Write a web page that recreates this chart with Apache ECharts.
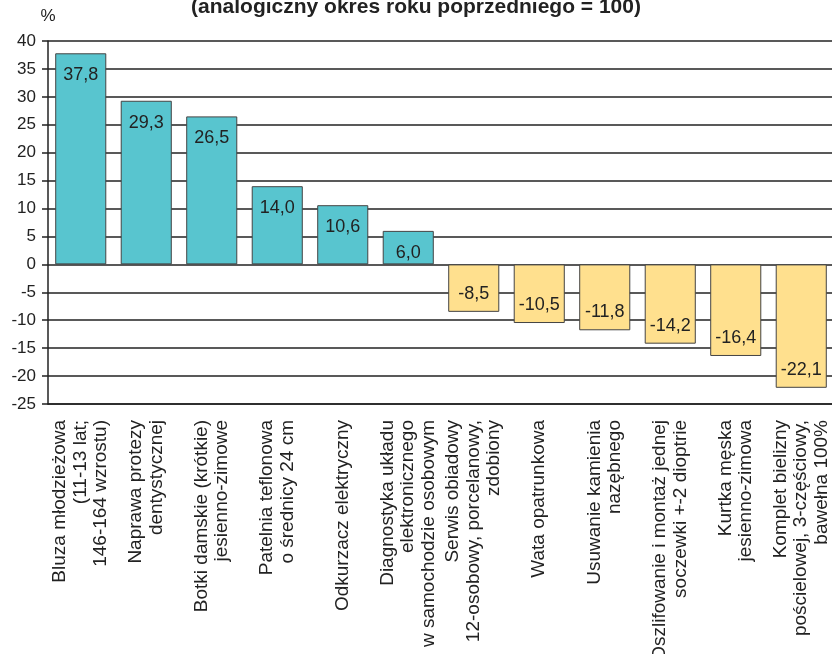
<!DOCTYPE html>
<html>
<head>
<meta charset="utf-8">
<script src="https://cdn.jsdelivr.net/npm/echarts@6/dist/echarts.min.js"></script>
<style>
    html, body { margin: 0; padding: 0; background: #fff; }
    #chart { width: 832px; height: 654px; }
</style>
</head>
<body>
<div id="chart"></div>
<script>
const categories = [
    'Bluza młodzieżowa\n(11-13 lat;\n146-164 wzrostu)',
    'Naprawa protezy\ndentystycznej',
    'Botki damskie (krótkie)\njesienno-zimowe',
    'Patelnia teflonowa\no średnicy 24 cm',
    'Odkurzacz elektryczny',
    'Diagnostyka układu\nelektronicznego\nw samochodzie osobowym',
    'Serwis obiadowy\n12-osobowy, porcelanowy,\nzdobiony',
    'Wata opatrunkowa',
    'Usuwanie kamienia\nnazębnego',
    'Oszlifowanie i montaż jednej\nsoczewki +-2 dioptrie',
    'Kurtka męska\njesienno-zimowa',
    'Komplet bielizny\npościelowej, 3-częściowy,\nbawełna 100%',
];
const values = [37.8, 29.3, 26.5, 14.0, 10.6, 6.0, -8.5, -10.5, -11.8, -14.2, -16.4, -22.1];

const FONT = 'Liberation Sans, Arial, sans-serif';
const UP_COLOR = '#58c5cf';
const DOWN_COLOR = '#ffe08e';

const chart = echarts.init(document.getElementById('chart'));

const seriesData = values.map(v => ({
    value: v,
    itemStyle: { color: v >= 0 ? UP_COLOR : DOWN_COLOR },
    label: {
        position: v >= 0 ? 'insideTop' : 'insideBottom',
        distance: v >= 0 ? 13 : 9,
    },
}));

const option = {
    animation: false,
    title: {
        text: '(analogiczny okres roku poprzedniego = 100)',
        left: 'center',
        top: -8,
        textStyle: {
            fontFamily: FONT,
            fontSize: 21,
            fontWeight: 'bold',
            color: '#222',
        },
    },
    grid: {
        left: 48,
        right: -2,
        top: 41,
        bottom: 250,
        containLabel: false,
        outerBoundsMode: 'none',
    },
    xAxis: {
        type: 'category',
        data: categories,
        axisLine: {
            onZero: false,
            lineStyle: { color: '#222', width: 1.5 },
        },
        axisTick: { show: false },
        axisLabel: {
            interval: 0,
            rotate: 90,
            margin: 16,
            fontFamily: FONT,
            fontSize: 19,
            lineHeight: 20.5,
            color: '#222',
        },
    },
    yAxis: {
        type: 'value',
        min: -25,
        max: 40,
        interval: 5,
        name: '%',
        nameLocation: 'end',
        nameGap: 16,
        nameTextStyle: {
            fontFamily: FONT,
            fontSize: 17,
            color: '#222',
            align: 'center',
        },
        axisLine: {
            show: true,
            lineStyle: { color: '#222', width: 1.5 },
        },
        axisTick: {
            show: true,
            length: 6,
            lineStyle: { color: '#222', width: 1.5 },
        },
        axisLabel: {
            margin: 12,
            fontFamily: FONT,
            fontSize: 17,
            color: '#222',
        },
        splitLine: {
            show: true,
            lineStyle: { color: '#222', width: 1.6 },
        },
    },
    series: [
        {
            type: 'bar',
            data: seriesData,
            barWidth: '78%',
            itemStyle: {
                borderColor: '#444',
                borderWidth: 1,
            },
            label: {
                show: true,
                fontFamily: FONT,
                fontSize: 18,
                color: '#222',
                formatter: p => p.value.toFixed(1).replace('.', ','),
            },
        },
    ],
};

chart.setOption(option);
</script>
</body>
</html>
